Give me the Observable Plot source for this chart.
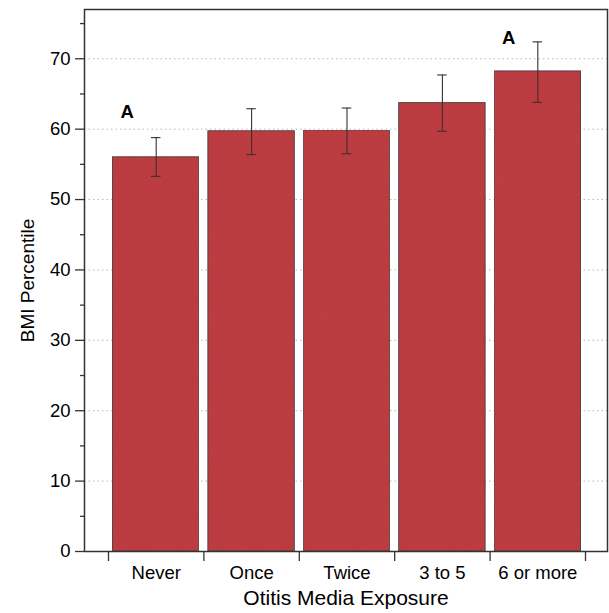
<!DOCTYPE html>
<html>
<head>
<meta charset="utf-8">
<script src="https://cdn.jsdelivr.net/npm/d3@7"></script>
<script src="https://cdn.jsdelivr.net/npm/@observablehq/plot@0.6"></script>
<style>
  html, body { margin: 0; padding: 0; background: #fff; }
  svg { display: block; }
</style>
</head>
<body>
<div id="chart"></div>
<script>
const categories = ["Never", "Once", "Twice", "3 to 5", "6 or more"];
const means = [56.0, 59.7, 59.8, 63.7, 68.2];
const lower = [53.3, 56.4, 56.5, 59.7, 63.8];
const upper = [58.8, 62.9, 63.0, 67.7, 72.4];
const letterCategories = ["Never", "6 or more"];
const letters = ["A", "A"];
const letterValues = [62.4, 72.9];
const yMajorTicks = [0, 10, 20, 30, 40, 50, 60, 70];
const yMinorTicks = [5, 15, 25, 35, 45, 55, 65, 75];
const gridValues = [10, 20, 30, 40, 50, 60, 70];
const xLabel = "Otitis Media Exposure";
const yLabel = "BMI Percentile";

const data = categories.map((c, i) => ({
  category: c, i0: i, i1: i + 1, mid: i + 0.5,
  capL: i + 0.45, capR: i + 0.55,
  mean: means[i], lo: lower[i], hi: upper[i]
}));
const letterData = letterCategories.map((c, k) => ({
  mid: categories.indexOf(c) + 0.5, letter: letters[k], y: letterValues[k]
}));
const boundaries = d3.range(categories.length + 1);
const centers = categories.map((c, i) => i + 0.5);

const font = "'Liberation Sans', Arial, Helvetica, sans-serif";

const chart = Plot.plot({
  width: 609,
  height: 613,
  marginLeft: 84,
  marginRight: 2,
  marginTop: 9,
  marginBottom: 62,
  style: { fontFamily: font, background: "white", color: "black" },
  x: { type: "linear", domain: [0, categories.length], insetLeft: 24, insetRight: 22 },
  y: { domain: [0, 77] },
  marks: [
    Plot.ruleY(gridValues, { stroke: "#b8b8b8", strokeWidth: 1, strokeDasharray: "1.5,3" }),
    Plot.rectY(data, { x1: "i0", x2: "i1", y: "mean", insetLeft: 4.5, insetRight: 4.5,
      fill: "#c24045", stroke: "#5a4a4a", strokeWidth: 1 }),
    Plot.ruleX(data, { x: "mid", y1: "lo", y2: "hi", stroke: "#3a3030", strokeWidth: 1.1 }),
    Plot.ruleY(data, { y: "hi", x1: "capL", x2: "capR", stroke: "#3a3030", strokeWidth: 1.1 }),
    Plot.ruleY(data, { y: "lo", x1: "capL", x2: "capR", stroke: "#3a3030", strokeWidth: 1.1 }),
    Plot.text(letterData, { x: "mid", y: "y", text: "letter", dx: -29, fontWeight: "bold",
      fontSize: 18.5, fill: "black" }),
    Plot.frame({ stroke: "#333", strokeWidth: 1.5 }),
    Plot.axisY({ ticks: yMajorTicks, tickSize: 9, tickPadding: 5, fontSize: 18.5,
      label: null, stroke: "#333", strokeWidth: 1.3 }),
    Plot.axisY({ ticks: yMinorTicks, tickSize: 4, tickFormat: () => "", label: null,
      stroke: "#333", strokeWidth: 1.3 }),
    Plot.axisX({ ticks: boundaries, tickSize: 10, tickFormat: () => "", label: null,
      stroke: "#333", strokeWidth: 1.3 }),
    Plot.axisX({ ticks: centers, tickSize: 0, tickPadding: 14, fontSize: 18.5,
      tickFormat: d => categories[Math.round(d - 0.5)], label: null }),
    Plot.text([xLabel], { frameAnchor: "bottom", dy: 47, text: d => d, fontSize: 21,
      fill: "black", textAnchor: "middle", lineAnchor: "middle" }),
    Plot.text([yLabel], { frameAnchor: "left", dx: -57, rotate: -90, text: d => d,
      fontSize: 19, fill: "black", textAnchor: "middle", lineAnchor: "middle" })
  ]
});

// subtle grain texture on the bars
const svg = d3.select(chart);
const defs = svg.insert("defs", ":first-child");
const f = defs.append("filter").attr("id", "grain")
  .attr("x", 0).attr("y", 0).attr("width", "100%").attr("height", "100%");
f.append("feTurbulence").attr("type", "fractalNoise").attr("baseFrequency", 0.9)
  .attr("numOctaves", 2).attr("seed", 4).attr("result", "noise");
f.append("feColorMatrix").attr("in", "noise").attr("type", "matrix")
  .attr("values", "0 0 0 0 0  0 0 0 0 0  0 0 0 0 0  0 0 0 0.16 0").attr("result", "dark");
f.append("feComposite").attr("in", "dark").attr("in2", "SourceGraphic")
  .attr("operator", "in").attr("result", "darkIn");
const m = f.append("feMerge");
m.append("feMergeNode").attr("in", "SourceGraphic");
m.append("feMergeNode").attr("in", "darkIn");
svg.selectAll("g[aria-label='rect'] rect").attr("filter", "url(#grain)");

document.getElementById("chart").appendChild(chart);
</script>
</body>
</html>
